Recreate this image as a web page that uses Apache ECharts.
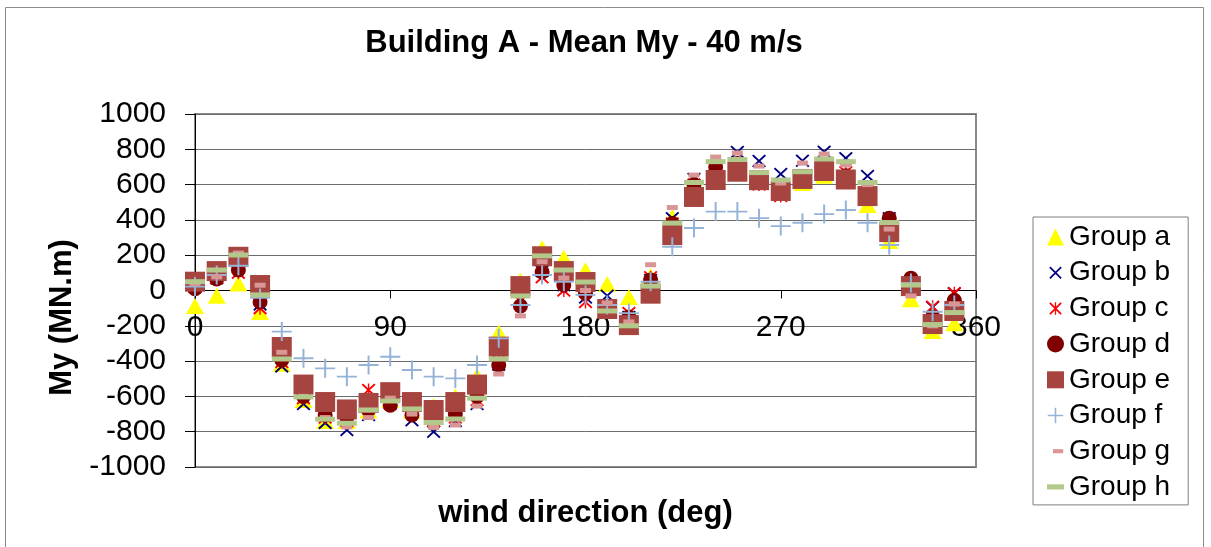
<!DOCTYPE html>
<html>
<head>
<meta charset="utf-8">
<script src="https://cdn.jsdelivr.net/npm/echarts@6/dist/echarts.min.js"></script>
<style>
  html, body { margin: 0; padding: 0; background: #fff; }
  #chart { width: 1211px; height: 547px; }
</style>
</head>
<body>
<div id="chart"></div>
<script>
// Wind direction (deg) for each measurement
const angles = [0, 10, 20, 30, 40, 50, 60, 70, 80, 90, 100, 110, 120, 130, 140, 150, 160, 170,
                180, 190, 200, 210, 220, 230, 240, 250, 260, 270, 280, 290, 300, 310, 320, 330, 340, 350];

// Mean My (MN.m) per group
const groupA = [-88, -30, 40, -122, -415, -620, -740, -740, -680, -620, -680, -655, -600, -485, -240, 55, 240, 185,
                115, 37, -37, 82, 416, 620, 700, 720, 640, 590, 609, 650, 620, 484, 280, -50, -230, -185];
const groupB = [30, 70, 150, -80, -430, -643, -750, -790, -705, -640, -735, -800, -740, -643, -420, -50, 110, 30,
                -40, -30, -150, 60, 410, 632, 705, 785, 734, 660, 735, 786, 750, 649, 410, 20, -95, -15];
const groupC = [20, 70, 100, -100, -405, -610, -720, -740, -564, -640, -690, -740, -720, -620, -400, -60, 75, 0,
                -65, -90, -127, 75, 380, 600, 700, 720, 600, 535, 640, 700, 670, 560, 390, 40, -92, -15];
const groupD = [10, 65, 116, -65, -394, -600, -705, -720, -677, -650, -705, -700, -700, -600, -422, -88, 105, 31,
                -15, -90, -150, 60, 380, 600, 700, 720, 640, 580, 640, 700, 650, 560, 410, 70, -150, -55];
const groupE = [50, 110, 191, 31, -320, -533, -632, -674, -637, -576, -632, -677, -632, -533, -318, 25, 194, 110,
                48, -105, -196, -18, 314, 530, 626, 673, 625, 564, 632, 677, 629, 535, 331, 25, -190, -116];
const groupF = [22, 88, 140, -42, -233, -384, -441, -488, -422, -375, -450, -488, -498, -422, -271, -82, 88, 50,
                -25, -82, -128, 50, 248, 354, 447, 447, 410, 365, 384, 433, 456, 384, 258, 42, -120, -82];
const groupG = [40, 77, 212, 30, -350, -600, -720, -773, -720, -610, -700, -776, -762, -655, -473, -144, 163, 70,
                0, -71, -178, 146, 470, 654, 756, 779, 705, 609, 722, 773, 711, 600, 348, -31, -200, -77];
const groupH = [50, 116, 201, -25, -388, -603, -729, -752, -677, -626, -671, -748, -728, -610, -388, -31, 196, 116,
                48, -116, -200, 25, 382, 612, 730, 742, 668, 626, 673, 745, 730, 612, 385, 31, -193, -125];

const xTicks = { min: 0, max: 360, interval: 90 };
const yTicks = { min: -1000, max: 1000, interval: 200 };

// Marker outlines built from filled bars
const PLUS = 'M0,45 L100,45 L100,55 L0,55 Z M45,0 L55,0 L55,100 L45,100 Z';
const CROSS = 'M0,10 L10,0 L100,90 L90,100 Z M90,0 L100,10 L10,100 L0,90 Z';
const STAR = CROSS + ' M45,0 L55,0 L55,100 L45,100 Z';
// Legend icons padded by empty move-to points so they sit smaller in the icon box
const pad = (p, a, b) => 'path://M' + a + ',' + a + ' M' + b + ',' + b + ' ' + p;

const FONT = '"Liberation Sans", Arial, sans-serif';

const groups = [
  { name: 'Group a', values: groupA, symbol: 'triangle', size: [18, 16], color: '#FFFF00', icon: 'triangle' },
  { name: 'Group b', values: groupB, symbol: 'path://' + CROSS, size: [14, 13], color: '#000080', icon: pad(CROSS, -18, 118) },
  { name: 'Group c', values: groupC, symbol: 'path://' + STAR, size: [14, 13], color: '#FF0000', icon: pad(STAR, -18, 118) },
  { name: 'Group d', values: groupD, symbol: 'circle', size: 15, color: '#800000', icon: 'circle' },
  { name: 'Group e', values: groupE, symbol: 'rect', size: 20, color: '#A64440', icon: 'rect' },
  { name: 'Group f', values: groupF, symbol: 'path://' + PLUS, size: [20, 19], color: '#95B3D7', icon: pad(PLUS, -5, 105) },
  { name: 'Group g', values: groupG, symbol: 'rect', size: [11, 5], color: '#D99694',
    icon: 'path://M0,0 M100,100 M35,38 L95,38 L95,62 L35,62 Z' },
  { name: 'Group h', values: groupH, symbol: 'rect', size: [20, 5], color: '#B3C98B',
    icon: 'path://M0,0 M100,100 M0,35 L100,35 L100,65 L0,65 Z' }
];

// Plot area in pixels; the x axis is drawn through My = 0
const GRID = { left: 195, right: 235, top: 114, bottom: 80 };
const plotH = 547 - GRID.top - GRID.bottom;
const zeroOffset = -plotH * (0 - yTicks.min) / (yTicks.max - yTicks.min);

const chart = echarts.init(document.getElementById('chart'), null, { renderer: 'canvas' });

chart.setOption({
  animation: false,
  backgroundColor: '#ffffff',
  title: {
    text: 'Building A - Mean My - 40 m/s',
    left: 584,
    textAlign: 'center',
    top: 28,
    padding: 0,
    textStyle: { fontFamily: FONT, fontSize: 31, fontWeight: 'bold', color: '#000' }
  },
  graphic: [{
    type: 'rect',
    shape: { x: 5.5, y: 7.5, width: 1198, height: 580 },
    style: { fill: 'none', stroke: '#8c8c8c', lineWidth: 1 },
    silent: true,
    z: -10
  }],
  grid: {
    left: GRID.left, right: GRID.right, top: GRID.top, bottom: GRID.bottom,
    containLabel: false,
    outerBoundsMode: 'none',
    show: true,
    borderColor: '#8a8a8a',
    borderWidth: 2,
    backgroundColor: 'transparent'
  },
  legend: {
    orient: 'vertical',
    left: 1033,
    top: 217,
    padding: [5, 18, 3, 14],
    itemWidth: 17,
    itemHeight: 17,
    itemGap: 5.7,
    borderColor: '#7f7f7f',
    borderWidth: 1,
    textStyle: { fontFamily: FONT, fontSize: 28, color: '#000', lineHeight: 30 },
    data: groups.map(g => ({ name: g.name, icon: g.icon }))
  },
  xAxis: {
    type: 'value',
    min: xTicks.min, max: xTicks.max, interval: xTicks.interval,
    offset: zeroOffset,
    name: 'wind direction (deg)',
    nameLocation: 'middle',
    nameGap: 207,
    nameTextStyle: { fontFamily: FONT, fontSize: 31, fontWeight: 'bold', color: '#000' },
    axisLine: { onZero: false, lineStyle: { color: '#000', width: 1 } },
    axisTick: { show: true, length: 8, lineStyle: { color: '#000' } },
    axisLabel: { fontFamily: FONT, fontSize: 30, color: '#000', margin: 22, showMinLabel: true, showMaxLabel: true, hideOverlap: false },
    splitLine: { show: false }
  },
  yAxis: {
    type: 'value',
    min: yTicks.min, max: yTicks.max, interval: yTicks.interval,
    name: 'My (MN.m)',
    nameLocation: 'middle',
    nameGap: 104,
    nameRotate: 90,
    nameTextStyle: { fontFamily: FONT, fontSize: 31, fontWeight: 'bold', color: '#000', padding: [0, 54, 0, 0] },
    axisLine: { show: true, onZero: false, lineStyle: { color: '#000', width: 1 } },
    axisTick: { show: true, length: 10, lineStyle: { color: '#000' } },
    axisLabel: {
      fontFamily: FONT, fontSize: 30, color: '#000', margin: 29,
      showMinLabel: true, showMaxLabel: true, hideOverlap: false,
      formatter: v => String(v)
    },
    splitLine: { show: true, lineStyle: { color: '#6b6b6b', width: 1 } }
  },
  series: groups.map(g => ({
    name: g.name,
    type: 'scatter',
    symbol: g.symbol,
    symbolSize: g.size,
    itemStyle: { color: g.color, opacity: 1 },
    emphasis: { disabled: true },
    data: angles.map((a, i) => [a, g.values[i]])
  }))
});
</script>
</body>
</html>
